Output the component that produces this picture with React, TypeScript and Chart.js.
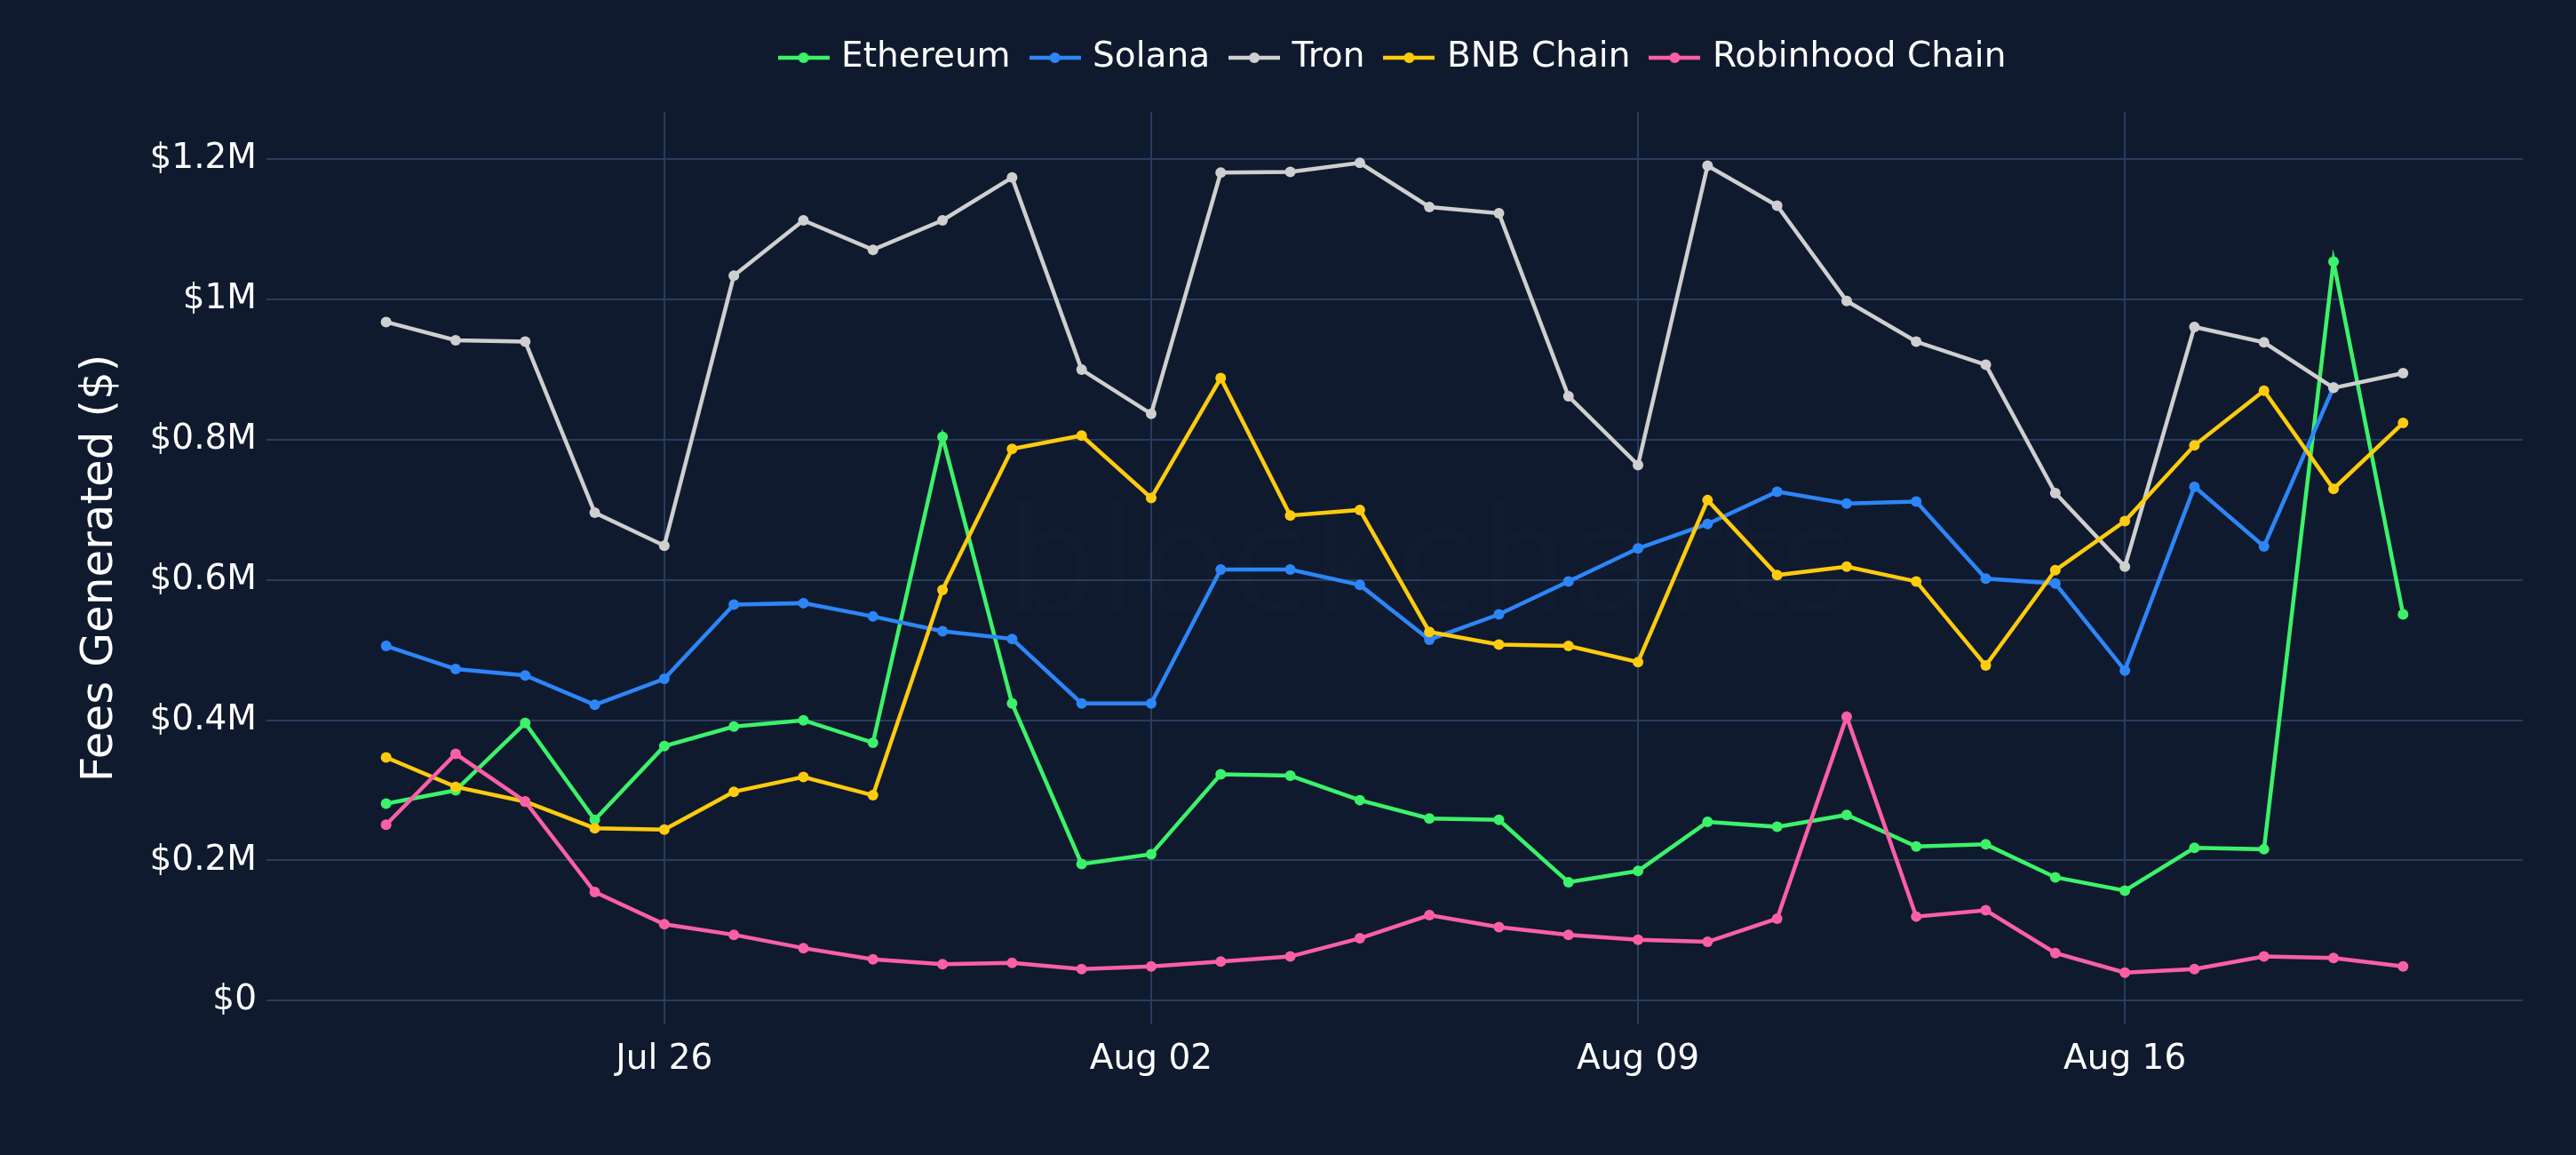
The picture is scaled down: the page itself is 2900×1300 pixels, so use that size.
import React, { useEffect, useRef } from "react";
import { Chart, registerables } from "chart.js";

Chart.register(...registerables);

const dayLabels = [
  "Jul 22", "Jul 23", "Jul 24", "Jul 25", "Jul 26", "Jul 27", "Jul 28", "Jul 29", "Jul 30", "Jul 31",
  "Aug 01", "Aug 02", "Aug 03", "Aug 04", "Aug 05", "Aug 06", "Aug 07", "Aug 08", "Aug 09", "Aug 10",
  "Aug 11", "Aug 12", "Aug 13", "Aug 14", "Aug 15", "Aug 16", "Aug 17", "Aug 18", "Aug 19", "Aug 20",
];

const xTickDays = [4, 11, 18, 25];
const xTickLabels = ["Jul 26", "Aug 02", "Aug 09", "Aug 16"];

const yTickValues = [0, 200000, 400000, 600000, 800000, 1000000, 1200000];
const yTickLabels = ["$0", "$0.2M", "$0.4M", "$0.6M", "$0.8M", "$1M", "$1.2M"];

const seriesNames = ["Ethereum", "Solana", "Tron", "BNB Chain", "Robinhood Chain"];
const seriesColors = ["#3cf26a", "#2d86f8", "#cfcfcf", "#fecb0e", "#fb5fa6"];

const ethereum = [
  281000, 300000, 396000, 258000, 363000, 391000, 400000, 368000, 804000, 424000,
  195000, 209000, 323000, 321000, 286000, 260000, 258000, 169000, 185000, 255000,
  248000, 265000, 220000, 223000, 176000, 157000, 218000, 216000, 1054000, 551000,
];
const solana = [
  506000, 473000, 464000, 422000, 459000, 565000, 567000, 548000, 527000, 516000,
  424000, 424000, 615000, 615000, 593000, 515000, 551000, 598000, 645000, 680000,
  726000, 709000, 712000, 602000, 595000, 471000, 733000, 648000, 875000, null,
];
const tron = [
  968000, 942000, 940000, 696000, 649000, 1034000, 1113000, 1071000, 1113000, 1174000,
  900000, 837000, 1181000, 1182000, 1195000, 1132000, 1123000, 862000, 764000, 1191000,
  1134000, 998000, 940000, 907000, 724000, 619000, 961000, 939000, 874000, 895000,
];
const bnbChain = [
  347000, 305000, 284000, 246000, 244000, 298000, 319000, 293000, 586000, 787000,
  806000, 717000, 888000, 692000, 700000, 526000, 508000, 506000, 483000, 714000,
  607000, 619000, 598000, 478000, 614000, 684000, 792000, 870000, 730000, 824000,
];
const robinhoodChain = [
  251000, 352000, 284000, 155000, 109000, 94000, 75000, 59000, 52000, 54000,
  45000, 49000, 56000, 63000, 89000, 122000, 105000, 94000, 87000, 84000,
  117000, 405000, 120000, 129000, 68000, 40000, 45000, 63000, 61000, 49000,
];

const seriesValues = [ethereum, solana, tron, bnbChain, robinhoodChain];

const FONT = "'DejaVu Sans', Verdana, sans-serif";
const BG = "#0f1a2e";
const GRID = "#293c5e";

function makeLegendImage(color: string): HTMLCanvasElement {
  const c = document.createElement("canvas");
  c.width = 58;
  c.height = 14;
  const ctx = c.getContext("2d")!;
  ctx.strokeStyle = color;
  ctx.lineWidth = 4.5;
  ctx.beginPath();
  ctx.moveTo(0, 7);
  ctx.lineTo(58, 7);
  ctx.stroke();
  ctx.fillStyle = color;
  ctx.beginPath();
  ctx.arc(29, 7, 6, 0, Math.PI * 2);
  ctx.fill();
  return c;
}

export default function App() {
  const canvasRef = useRef<HTMLCanvasElement | null>(null);

  useEffect(() => {
    document.body.style.margin = "0";
    document.body.style.background = BG;
    document.body.style.overflow = "hidden";
    const canvas = canvasRef.current;
    if (!canvas) return;

    const legendImages = seriesColors.map(makeLegendImage);

    const datasets = seriesNames.map((name, i) => ({
      label: name,
      data: dayLabels.map((_, d) => ({ x: d, y: seriesValues[i][d] })),
      borderColor: seriesColors[i],
      backgroundColor: seriesColors[i],
      pointBackgroundColor: seriesColors[i],
      pointBorderWidth: 0,
      pointRadius: 6,
      borderWidth: 4.5,
      tension: 0,
      fill: false,
      order: seriesNames.length - i,
    }));

    const legendHeightPlugin = {
      id: "legendHeight",
      beforeInit(chart: any) {
        const legend = chart.legend;
        if (!legend) return;
        const orig = legend.fit;
        legend.fit = function () {
          orig.call(this);
          this.height = 107.5;
        };
      },
    };

    const watermarkPlugin = {
      id: "watermark",
      beforeDatasetsDraw(chart: any) {
        const { ctx, chartArea } = chart;
        ctx.save();
        ctx.font = `166px ${FONT}`;
        ctx.fillStyle = "rgba(255,255,255,0.012)";
        ctx.textAlign = "center";
        ctx.textBaseline = "middle";
        ctx.fillText("blockcharts", (chartArea.left + chartArea.right) / 2 + 40, (chartArea.top + chartArea.bottom) / 2 + 5);
        ctx.restore();
      },
    };

    const chart = new Chart(canvas, {
      type: "line",
      data: { datasets: datasets as any },
      plugins: [legendHeightPlugin, watermarkPlugin],
      options: {
        animation: false,
        responsive: false,
        devicePixelRatio: 1,
        layout: { padding: { top: 18.5, right: 60, left: 0, bottom: 0 } },
        plugins: {
          tooltip: { enabled: false },
          legend: {
            display: true,
            position: "top",
            align: "center",
            fullSize: false,
            labels: {
              usePointStyle: true,
              pointStyleWidth: 46,
              color: "#ffffff",
              padding: 27,
              font: { size: 39, family: FONT },
              sort: (a: any, b: any) => a.datasetIndex - b.datasetIndex,
              generateLabels: (ch: any) => {
                const base = (Chart.defaults.plugins.legend.labels as any).generateLabels(ch);
                return base.map((item: any) => ({
                  ...item,
                  pointStyle: legendImages[item.datasetIndex],
                  fontColor: "#ffffff",
                }));
              },
            },
          },
        },
        scales: {
          x: {
            type: "linear",
            min: -1.72,
            max: 30.72,
            afterBuildTicks: (scale: any) => {
              scale.ticks = xTickDays.map((v) => ({ value: v }));
            },
            afterFit: (scale: any) => {
              scale.height = 147;
            },
            ticks: {
              autoSkip: false,
              maxRotation: 0,
              minRotation: 0,
              padding: 16,
              color: "#ffffff",
              font: { size: 39, family: FONT },
              callback: (value: any) => {
                const idx = xTickDays.indexOf(Number(value));
                return idx >= 0 ? xTickLabels[idx] : "";
              },
            },
            grid: { color: GRID, lineWidth: 2, drawTicks: false },
            border: { display: false },
          },
          y: {
            type: "linear",
            min: -33800,
            max: 1267600,
            afterBuildTicks: (scale: any) => {
              scale.ticks = yTickValues.map((v) => ({ value: v }));
            },
            afterFit: (scale: any) => {
              scale.width = 300;
            },
            ticks: {
              padding: 11,
              color: "#ffffff",
              font: { size: 39, family: FONT },
              callback: (value: any) => {
                const idx = yTickValues.indexOf(Number(value));
                return idx >= 0 ? yTickLabels[idx] : "";
              },
            },
            grid: { color: GRID, lineWidth: 2, drawTicks: false },
            border: { display: false },
            title: {
              display: true,
              text: "Fees Generated ($)",
              color: "#ffffff",
              font: { size: 50, family: FONT, weight: "normal" },
              padding: { top: 83, bottom: 0 },
            },
          },
        },
      },
    });

    return () => {
      chart.destroy();
    };
  }, []);

  return (
    <div style={{ width: 2900, height: 1300, background: BG }}>
      <canvas ref={canvasRef} width={2900} height={1300} style={{ display: "block", width: 2900, height: 1300 }} />
    </div>
  );
}
